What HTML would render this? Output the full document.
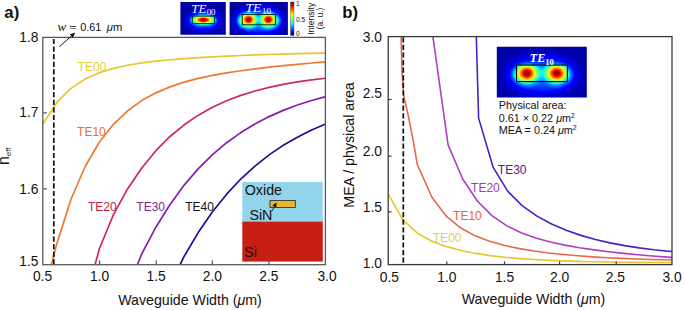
<!DOCTYPE html>
<html><head><meta charset="utf-8"><style>
html,body{margin:0;padding:0;background:#fff;}
svg{display:block;font-family:"Liberation Sans", sans-serif;}
</style></head><body>
<svg width="685" height="310" viewBox="0 0 685 310">
<defs>
<linearGradient id="cbar" x1="0" y1="1" x2="0" y2="0">
 <stop offset="0" stop-color="#00008F"/><stop offset="0.11" stop-color="#0000FF"/>
 <stop offset="0.36" stop-color="#00FFFF"/><stop offset="0.5" stop-color="#80FF80"/>
 <stop offset="0.62" stop-color="#FFFF00"/><stop offset="0.87" stop-color="#FF0000"/>
 <stop offset="1" stop-color="#800000"/></linearGradient>
<filter id="jetf" x="0" y="0" width="1" height="1" color-interpolation-filters="sRGB"><feComponentTransfer>
 <feFuncR type="table" tableValues="0 0 0 0 0 0 0 0 0 0 0 0 0 0 0 0.0806 0.161 0.242 0.323 0.403 0.484 0.565 0.645 0.726 0.806 0.887 0.968 1 1 1 1 1 1 1 1 1 0.955 0.841 0.727 0.614 0.5"/>
 <feFuncG type="table" tableValues="0 0 0 0 0 0 0.1 0.2 0.3 0.4 0.5 0.6 0.7 0.8 0.9 1 1 1 1 1 1 1 1 1 1 1 0.963 0.87 0.778 0.685 0.593 0.5 0.407 0.315 0.222 0.13 0.037 0 0 0 0"/>
 <feFuncB type="table" tableValues="0.5 0.614 0.727 0.841 0.955 1 1 1 1 1 1 1 1 1 0.968 0.887 0.806 0.726 0.645 0.565 0.484 0.403 0.323 0.242 0.161 0.0806 0 0 0 0 0 0 0 0 0 0 0 0 0 0 0"/>
</feComponentTransfer></filter>
<radialGradient id="gauss" cx="0.5" cy="0.5" r="0.5"><stop offset="0.000" stop-color="#fff" stop-opacity="1.000"/><stop offset="0.083" stop-color="#fff" stop-opacity="0.969"/><stop offset="0.167" stop-color="#fff" stop-opacity="0.882"/><stop offset="0.250" stop-color="#fff" stop-opacity="0.755"/><stop offset="0.333" stop-color="#fff" stop-opacity="0.607"/><stop offset="0.417" stop-color="#fff" stop-opacity="0.458"/><stop offset="0.500" stop-color="#fff" stop-opacity="0.325"/><stop offset="0.583" stop-color="#fff" stop-opacity="0.216"/><stop offset="0.667" stop-color="#fff" stop-opacity="0.135"/><stop offset="0.750" stop-color="#fff" stop-opacity="0.080"/><stop offset="0.833" stop-color="#fff" stop-opacity="0.044"/><stop offset="0.917" stop-color="#fff" stop-opacity="0.023"/><stop offset="1.000" stop-color="#fff" stop-opacity="0.011"/></radialGradient>
<clipPath id="clipA"><rect x="42.8" y="37.4" width="282.6" height="227.3"/></clipPath>
<clipPath id="clipB"><rect x="388.2" y="36.6" width="283.8" height="228"/></clipPath>
<marker id="ah" viewBox="0 0 10 10" refX="9" refY="5" markerWidth="5" markerHeight="5" orient="auto"><path d="M0 0 L10 5 L0 10 z" fill="#111"/></marker>
</defs>
<text x="4.3" y="18.3" font-size="16.8" fill="#111" text-anchor="start" font-weight="bold">a)</text>
<rect x="242.3" y="182" width="80.5" height="39.8" fill="#92D5EA"/>
<rect x="242.3" y="221.6" width="80.5" height="40" fill="#C81F15"/>
<rect x="270" y="200.4" width="25.3" height="7.1" fill="#E8B631" stroke="#222" stroke-width="0.8"/>
<text x="244.7" y="195.4" font-size="14.3" fill="#111" text-anchor="start" >Oxide</text>
<text x="249.4" y="219.9" font-size="14.3" fill="#111" text-anchor="start" >SiN</text>
<text x="244.0" y="257.4" font-size="14.6" fill="#111" text-anchor="start" >Si</text>
<path d="M271.8 211.5 L276.2 203" stroke="#111" stroke-width="0.9" fill="none" marker-end="url(#ah)"/>
<path d="M42.70 124.18 L56.85 102.43 L71.00 88.35 L85.15 79.05 L99.30 72.77 L113.45 68.41 L127.60 65.28 L141.75 62.96 L155.90 61.17 L170.05 59.75 L184.20 58.60 L198.35 57.64 L212.50 56.82 L226.65 56.11 L240.80 55.50 L254.95 54.96 L269.10 54.48 L283.25 54.06 L297.40 53.69 L311.55 53.36 L325.70 53.06" fill="none" stroke="#E9C62B" stroke-width="1.7" stroke-linejoin="round" clip-path="url(#clipA)"/>
<path d="M42.70 297.09 L56.85 243.63 L71.00 199.25 L85.15 166.52 L99.30 142.30 L113.45 124.28 L127.60 110.79 L141.75 100.61 L155.90 92.85 L170.05 86.87 L184.20 82.18 L198.35 78.44 L212.50 75.39 L226.65 72.87 L240.80 70.72 L254.95 68.85 L269.10 67.19 L283.25 65.68 L297.40 64.30 L311.55 63.00 L325.70 61.78" fill="none" stroke="#EE7A2C" stroke-width="1.7" stroke-linejoin="round" clip-path="url(#clipA)"/>
<path d="M85.15 301.50 L99.30 249.02 L113.45 214.58 L127.60 188.91 L141.75 167.93 L155.90 150.67 L170.05 136.47 L184.20 124.79 L198.35 115.17 L212.50 107.26 L226.65 100.75 L240.80 95.39 L254.95 90.99 L269.10 87.36 L283.25 84.37 L297.40 81.92 L311.55 79.90 L325.70 78.24" fill="none" stroke="#C92B5C" stroke-width="1.7" stroke-linejoin="round" clip-path="url(#clipA)"/>
<path d="M127.60 288.58 L141.75 253.96 L155.90 227.22 L170.05 204.46 L184.20 185.11 L198.35 168.64 L212.50 154.63 L226.65 142.71 L240.80 132.57 L254.95 123.94 L269.10 116.60 L283.25 110.35 L297.40 105.04 L311.55 100.52 L325.70 96.67" fill="none" stroke="#8A1CB6" stroke-width="1.7" stroke-linejoin="round" clip-path="url(#clipA)"/>
<path d="M170.05 285.10 L184.20 256.24 L198.35 232.32 L212.50 211.79 L226.65 194.17 L240.80 179.04 L254.95 166.06 L269.10 154.91 L283.25 145.35 L297.40 137.14 L311.55 130.09 L325.70 124.04" fill="none" stroke="#1F0C98" stroke-width="1.7" stroke-linejoin="round" clip-path="url(#clipA)"/>
<line x1="53.8" y1="38.9" x2="53.8" y2="264.5" stroke="#111" stroke-width="1.7" stroke-dasharray="5.2 2.4"/>
<rect x="42.8" y="37.4" width="282.6" height="227.3" fill="none" stroke="#5a5a5a" stroke-width="1.3"/>
<line x1="42.8" y1="188.9" x2="47" y2="188.9" stroke="#5a5a5a" stroke-width="1.2"/>
<line x1="42.8" y1="112.9" x2="47" y2="112.9" stroke="#5a5a5a" stroke-width="1.2"/>
<line x1="99.6" y1="264.7" x2="99.6" y2="260.3" stroke="#5a5a5a" stroke-width="1.2"/>
<line x1="156.2" y1="264.7" x2="156.2" y2="260.3" stroke="#5a5a5a" stroke-width="1.2"/>
<line x1="212.3" y1="264.7" x2="212.3" y2="260.3" stroke="#5a5a5a" stroke-width="1.2"/>
<line x1="268.9" y1="264.7" x2="268.9" y2="260.3" stroke="#5a5a5a" stroke-width="1.2"/>
<text x="38.4" y="41.9" font-size="13.8" fill="#111" text-anchor="end" >1.8</text>
<text x="38.4" y="116.5" font-size="13.8" fill="#111" text-anchor="end" >1.7</text>
<text x="38.4" y="193.8" font-size="13.8" fill="#111" text-anchor="end" >1.6</text>
<text x="38.4" y="266" font-size="13.8" fill="#111" text-anchor="end" >1.5</text>
<text x="42.5" y="281.2" font-size="13.8" fill="#111" text-anchor="middle" >0.5</text>
<text x="99.5" y="281.2" font-size="13.8" fill="#111" text-anchor="middle" >1.0</text>
<text x="156.2" y="281.2" font-size="13.8" fill="#111" text-anchor="middle" >1.5</text>
<text x="212.3" y="281.2" font-size="13.8" fill="#111" text-anchor="middle" >2.0</text>
<text x="268.9" y="281.2" font-size="13.8" fill="#111" text-anchor="middle" >2.5</text>
<text x="327" y="281.2" font-size="13.8" fill="#111" text-anchor="middle" >3.0</text>
<text x="190" y="304.5" font-size="14.2" fill="#111" text-anchor="middle" >Waveguide Width (<tspan font-style="italic">&#956;</tspan>m)</text>
<text transform="translate(8.9,165) rotate(-90)" font-size="16" fill="#111">n<tspan font-size="7.8" dy="2.3">eff</tspan></text>
<text x="77.7" y="70.7" font-size="12" fill="#E6CF30" text-anchor="start" >TE00</text>
<text x="77.1" y="135.7" font-size="12" fill="#EE6B2B" text-anchor="start" >TE10</text>
<text x="87.9" y="210.7" font-size="12" fill="#C8223F" text-anchor="start" >TE20</text>
<text x="136.3" y="211" font-size="12" fill="#7A2A96" text-anchor="start" >TE30</text>
<text x="185.2" y="211" font-size="12" fill="#111" text-anchor="start" >TE40</text>
<text x="57.6" y="31.4" font-size="13" fill="#111" font-family="Liberation Serif" font-style="italic">w</text>
<text x="68.9" y="31.6" font-size="13.5" fill="#111" font-family="Liberation Serif">=</text>
<text x="80.2" y="31.4" font-size="10.9" fill="#111" text-anchor="start" >0.61</text>
<text x="106.8" y="31.4" font-size="11.2" fill="#111"><tspan font-style="italic">&#956;</tspan>m</text>
<path d="M59.5 46.6 L74.6 33.2" stroke="#111" stroke-width="1" fill="none" marker-end="url(#ah)"/>
<clipPath id="c00"><rect x="180.4" y="2" width="45.4" height="32.8"/></clipPath>
<clipPath id="c00r"><rect x="192.3" y="16.1" width="22.2" height="7.6"/></clipPath>
<filter id="c00b0" x="-100%" y="-100%" width="300%" height="300%"><feGaussianBlur stdDeviation="3.5"/></filter>
<filter id="c00b1" x="-100%" y="-100%" width="300%" height="300%"><feGaussianBlur stdDeviation="1.5"/></filter>
<g clip-path="url(#c00)"><g filter="url(#jetf)"><rect x="179.4" y="1" width="47.4" height="34.8" fill="rgb(8,8,8)"/>
<ellipse cx="203.4" cy="20.6" rx="16" ry="9" fill="#fff" opacity="0.2" filter="url(#c00b0)"/>
<ellipse cx="203.4" cy="20.2" rx="12.2" ry="4.6" fill="#fff" opacity="0.42" filter="url(#c00b1)"/>
<g clip-path="url(#c00r)"><rect x="192.3" y="16.1" width="22.2" height="7.6" fill="rgb(28,28,28)"/>
<ellipse cx="203.4" cy="19.9" rx="21.00" ry="9.00" fill="url(#gauss)" opacity="1.0"/>
</g></g></g>
<rect x="192.3" y="16.1" width="22.2" height="7.6" fill="none" stroke="#000" stroke-width="0.8"/>
<text x="191.2" y="12.6" font-size="13" fill="#fff" font-family="Liberation Serif" font-style="italic">TE<tspan font-size="8.8" font-style="normal" dx="0.3" dy="2.3">00</tspan></text>
<clipPath id="c10"><rect x="229.6" y="2" width="58.3" height="33"/></clipPath>
<clipPath id="c10r"><rect x="242.2" y="14.5" width="33.5" height="10.3"/></clipPath>
<filter id="c10b0" x="-100%" y="-100%" width="300%" height="300%"><feGaussianBlur stdDeviation="4"/></filter>
<filter id="c10b1" x="-100%" y="-100%" width="300%" height="300%"><feGaussianBlur stdDeviation="2.0"/></filter>
<filter id="c10b2" x="-100%" y="-100%" width="300%" height="300%"><feGaussianBlur stdDeviation="2.0"/></filter>
<g clip-path="url(#c10)"><g filter="url(#jetf)"><rect x="228.6" y="1" width="60.3" height="35" fill="rgb(8,8,8)"/>
<ellipse cx="259" cy="20.8" rx="23" ry="12" fill="#fff" opacity="0.22" filter="url(#c10b0)"/>
<ellipse cx="248.2" cy="20.6" rx="9.6" ry="7.0" fill="#fff" opacity="0.5" filter="url(#c10b1)"/>
<ellipse cx="268.8" cy="20.6" rx="9.6" ry="7.0" fill="#fff" opacity="0.5" filter="url(#c10b2)"/>
<g clip-path="url(#c10r)"><rect x="242.2" y="14.5" width="33.5" height="10.3" fill="rgb(8,8,8)"/>
<ellipse cx="248.6" cy="19.6" rx="16.50" ry="14.40" fill="url(#gauss)" opacity="1.0"/>
<ellipse cx="268.4" cy="19.6" rx="16.50" ry="14.40" fill="url(#gauss)" opacity="1.0"/>
</g></g></g>
<rect x="242.2" y="14.5" width="33.5" height="10.3" fill="none" stroke="#000" stroke-width="0.8"/>
<text x="245.6" y="11.9" font-size="13.5" fill="#fff" font-family="Liberation Serif" font-style="italic">TE<tspan font-size="9" font-style="normal" dx="0.6" dy="2.4">10</tspan></text>
<rect x="290.6" y="2" width="3.4" height="33.4" fill="url(#cbar)" stroke="#333" stroke-width="0.4"/>
<text x="296" y="6.3" font-size="6.5" fill="#111" text-anchor="start" >1</text>
<text x="296" y="22" font-size="6.5" fill="#111" text-anchor="start" >0.5</text>
<text x="296" y="35.5" font-size="6.5" fill="#111" text-anchor="start" >0</text>
<text transform="translate(313.7,34.8) rotate(-90)" font-size="8.6" fill="#111">Intensity</text>
<text transform="translate(322.6,29.2) rotate(-90)" font-size="8.2" fill="#111">(a. u.)</text>
<text x="342.2" y="18.3" font-size="16.8" fill="#111" text-anchor="start" font-weight="bold">b)</text>
<path d="M388.20 193.93 L402.80 219.85 L417.40 233.21 L432.00 241.23 L446.60 246.63 L461.20 250.51 L475.80 253.41 L490.40 255.61 L505.00 257.29 L519.60 258.58 L534.20 259.57 L548.80 260.34 L563.40 260.92 L578.00 261.37 L592.60 261.72 L607.20 261.98 L621.80 262.19 L636.40 262.35 L651.00 262.47 L665.60 262.56 L680.20 262.63" fill="none" stroke="#E8C62E" stroke-width="1.6" stroke-linejoin="round" clip-path="url(#clipB)"/>
<path d="M401.10 36.50 L401.90 68.70 L403.60 95.20 L408.30 115.80 L413.40 141.70 L417.30 164.51 L431.90 197.25 L446.50 216.41 L461.10 228.28 L475.70 236.11 L490.30 241.58 L504.90 245.59 L519.50 248.65 L534.10 251.06 L548.70 252.98 L563.30 254.53 L577.90 255.79 L592.50 256.83 L607.10 257.68 L621.70 258.38 L636.30 258.96 L650.90 259.43 L665.50 259.82 L680.10 260.15" fill="none" stroke="#E8674E" stroke-width="1.6" stroke-linejoin="round" clip-path="url(#clipB)"/>
<path d="M432.90 36.50 L448.10 144.85 L462.70 178.96 L477.30 201.00 L491.90 215.61 L506.50 225.60 L521.10 232.69 L535.70 237.92 L550.30 241.92 L564.90 245.10 L579.50 247.70 L594.10 249.88 L608.70 251.74 L623.30 253.35 L637.90 254.76 L652.50 256.00 L667.10 257.10 L681.70 258.07" fill="none" stroke="#B03EC2" stroke-width="1.6" stroke-linejoin="round" clip-path="url(#clipB)"/>
<path d="M476.30 36.50 L478.60 118.13 L493.20 167.44 L507.80 191.37 L522.40 205.85 L537.00 216.10 L551.60 223.99 L566.20 230.28 L580.80 235.37 L595.40 239.51 L610.00 242.89 L624.60 245.64 L639.20 247.89 L653.80 249.73 L668.40 251.23 L683.00 252.46" fill="none" stroke="#4B1FC6" stroke-width="1.6" stroke-linejoin="round" clip-path="url(#clipB)"/>
<line x1="403.3" y1="37.2" x2="403.3" y2="264.6" stroke="#111" stroke-width="1.7" stroke-dasharray="5.2 2.4"/>
<rect x="388.2" y="36.6" width="283.8" height="228" fill="none" stroke="#3a3a3a" stroke-width="1.3"/>
<line x1="388.2" y1="99.5" x2="391.6" y2="99.5" stroke="#3a3a3a" stroke-width="1.2"/>
<line x1="388.2" y1="156.2" x2="391.6" y2="156.2" stroke="#3a3a3a" stroke-width="1.2"/>
<line x1="388.2" y1="211.8" x2="391.6" y2="211.8" stroke="#3a3a3a" stroke-width="1.2"/>
<line x1="446.8" y1="264.6" x2="446.8" y2="261.4" stroke="#3a3a3a" stroke-width="1.2"/>
<line x1="504.5" y1="264.6" x2="504.5" y2="261.4" stroke="#3a3a3a" stroke-width="1.2"/>
<line x1="559.6" y1="264.6" x2="559.6" y2="261.4" stroke="#3a3a3a" stroke-width="1.2"/>
<line x1="616.2" y1="264.6" x2="616.2" y2="261.4" stroke="#3a3a3a" stroke-width="1.2"/>
<text x="382" y="42" font-size="13.8" fill="#111" text-anchor="end" >3.0</text>
<text x="382" y="98.2" font-size="13.8" fill="#111" text-anchor="end" >2.5</text>
<text x="382" y="156.4" font-size="13.8" fill="#111" text-anchor="end" >2.0</text>
<text x="382" y="211.6" font-size="13.8" fill="#111" text-anchor="end" >1.5</text>
<text x="382" y="268.3" font-size="13.8" fill="#111" text-anchor="end" >1.0</text>
<text x="389.4" y="282.3" font-size="13.8" fill="#111" text-anchor="middle" >0.5</text>
<text x="446.8" y="282.3" font-size="13.8" fill="#111" text-anchor="middle" >1.0</text>
<text x="504.5" y="282.3" font-size="13.8" fill="#111" text-anchor="middle" >1.5</text>
<text x="559.6" y="282.3" font-size="13.8" fill="#111" text-anchor="middle" >2.0</text>
<text x="615.4" y="282.3" font-size="13.8" fill="#111" text-anchor="middle" >2.5</text>
<text x="672" y="282.3" font-size="13.8" fill="#111" text-anchor="middle" >3.0</text>
<text x="533.5" y="303.6" font-size="14.2" fill="#111" text-anchor="middle" >Waveguide Width (<tspan font-style="italic">&#956;</tspan>m)</text>
<text transform="translate(353.6,145) rotate(-90)" font-size="14.2" fill="#111" text-anchor="middle">MEA / physical area</text>
<text x="432.8" y="241.8" font-size="12" fill="#E3CF3A" text-anchor="start" >TE00</text>
<text x="453.1" y="220.4" font-size="12" fill="#EC6430" text-anchor="start" >TE10</text>
<text x="471.1" y="192.1" font-size="12" fill="#A936B6" text-anchor="start" >TE20</text>
<text x="497.8" y="173.6" font-size="12" fill="#55207E" text-anchor="start" >TE30</text>
<clipPath id="cb10"><rect x="496.8" y="46.8" width="90" height="50.6"/></clipPath>
<clipPath id="cb10r"><rect x="516.5" y="65.1" width="50.9" height="16.5"/></clipPath>
<filter id="cb10b0" x="-100%" y="-100%" width="300%" height="300%"><feGaussianBlur stdDeviation="6"/></filter>
<filter id="cb10b1" x="-100%" y="-100%" width="300%" height="300%"><feGaussianBlur stdDeviation="2.4"/></filter>
<filter id="cb10b2" x="-100%" y="-100%" width="300%" height="300%"><feGaussianBlur stdDeviation="2.4"/></filter>
<g clip-path="url(#cb10)"><g filter="url(#jetf)"><rect x="495.8" y="45.8" width="92" height="52.6" fill="rgb(9,9,9)"/>
<ellipse cx="542" cy="75" rx="34" ry="17" fill="#fff" opacity="0.2" filter="url(#cb10b0)"/>
<ellipse cx="526.6" cy="74.6" rx="12.8" ry="9.2" fill="#fff" opacity="0.42" filter="url(#cb10b1)"/>
<ellipse cx="556.9" cy="74.6" rx="12.8" ry="9.2" fill="#fff" opacity="0.42" filter="url(#cb10b2)"/>
<g clip-path="url(#cb10r)"><rect x="516.5" y="65.1" width="50.9" height="16.5" fill="rgb(28,28,28)"/>
<ellipse cx="526.8" cy="73.3" rx="23.40" ry="19.80" fill="url(#gauss)" opacity="1.0"/>
<ellipse cx="556.7" cy="73.3" rx="23.40" ry="19.80" fill="url(#gauss)" opacity="1.0"/>
</g></g></g>
<rect x="516.5" y="65.1" width="50.9" height="16.5" fill="none" stroke="#000" stroke-width="1.1"/>
<text x="529.8" y="62.1" font-size="12" fill="#fff" font-family="Liberation Serif" font-style="italic" font-weight="bold">TE<tspan font-size="8.5" dy="2.6" font-style="normal">10</tspan></text>
<text x="498.8" y="108.7" font-size="10.8" fill="#111" text-anchor="start" >Physical area:</text>
<text x="498.8" y="121.5" font-size="10.8" fill="#111">0.61 &#215; 0.22 <tspan font-style="italic">&#956;</tspan>m<tspan font-size="7" dy="-4">2</tspan></text>
<text x="498.8" y="134.3" font-size="10.8" fill="#111">MEA = 0.24 <tspan font-style="italic">&#956;</tspan>m<tspan font-size="7" dy="-4">2</tspan></text>
</svg></body></html>
